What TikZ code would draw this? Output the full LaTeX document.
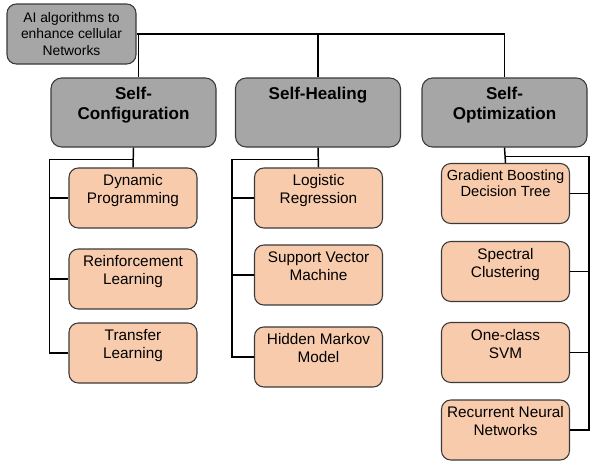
\documentclass[tikz,border=0pt]{standalone}
\usepackage{fontspec}
\setmainfont{Liberation Sans}
\usepackage{tikz}
\usetikzlibrary{positioning}

\definecolor{boxgray}{HTML}{A6A6A6}
\definecolor{leafpeach}{HTML}{F8CBAD}
\definecolor{edgegray}{HTML}{3A3A3A}

\tikzset{
  topbox/.style={draw=edgegray, line width=0.8pt, fill=boxgray, rounded corners=7pt,
    minimum width=96.75pt, minimum height=45pt, align=center,
    font=\fontsize{10.4}{12.4}\selectfont},
  headbox/.style={draw=edgegray, line width=0.8pt, fill=boxgray, rounded corners=8pt,
    minimum width=123.75pt, minimum height=51.75pt},
  leafbox/.style={draw=edgegray, line width=0.8pt, fill=leafpeach, rounded corners=7pt,
    minimum width=96pt, minimum height=45pt},
  headtext/.style={anchor=north, yshift=-7pt, inner sep=0pt, align=center,
    font=\bfseries\fontsize{12.8}{15}\selectfont},
  leaftext/.style={anchor=north, yshift=-5pt, inner sep=0pt, align=center,
    font=\fontsize{11.5}{13.5}\selectfont},
  link/.style={line width=1.1pt}
}

\begin{document}
\begin{tikzpicture}[x=0.75pt, y=-0.75pt]
  \useasboundingbox (0,0) rectangle (592,464);

  \node[topbox] (root) at (71.5, 34) {AI algorithms to\\enhance cellular\\Networks};

  \node[headbox, label={[headtext]north:Self-\\Configuration}] (sc) at (133.5, 112.5) {};
  \node[headbox, label={[headtext]north:Self-Healing}] (sh) at (318, 112.5) {};
  \node[headbox, label={[headtext]north:Self-\\Optimization}] (so) at (504.5, 112.5) {};

  % self-configuration
  \node[leafbox, label={[leaftext]north:Dynamic\\Programming}] (dp) at (133, 198) {};
  \node[leafbox, label={[leaftext]north:Reinforcement\\Learning}] (rl) at (133, 279) {};
  \node[leafbox, label={[leaftext]north:Transfer\\Learning}] (tl) at (133, 353) {};

  % self-healing
  \node[leafbox, label={[leaftext]north:Logistic\\Regression}] (lr) at (318.5, 198) {};
  \node[leafbox, label={[leaftext]north:Support Vector\\Machine}] (svm) at (318.5, 275) {};
  \node[leafbox, label={[leaftext]north:Hidden Markov\\Model}] (hmm) at (318.5, 357) {};

  % self-optimization
  \node[leafbox, label={[leaftext, font=\fontsize{11}{12}\selectfont]north:Gradient Boosting\\Decision Tree}] (gb) at (505.5, 193.5) {};
  \node[leafbox, label={[leaftext]north:Spectral\\Clustering}] (spc) at (505.5, 271.5) {};
  \node[leafbox, label={[leaftext]north:One-class\\SVM}] (ocs) at (505.5, 352.5) {};
  \node[leafbox, label={[leaftext]north:Recurrent Neural\\Networks}] (rn) at (505.5, 430) {};

  \draw[link] (root.east) -- (root.east -| so.north) -- (so.north);
  \draw[link] ([xshift=1.5pt]root.east) -- ([xshift=1.5pt]root.east |- sc.north);
  \draw[link] (sh.north) -- (sh.north |- root.east);

  \draw[link] (sc.south) -- (dp.north);
  \draw[link] (sc.south) ++(0,12) -| ([xshift=-14.25pt]tl.west) -- (tl.west);
  \foreach \n in {dp,rl}
    \draw[link] (\n.west) -- ++(-19,0);

  \draw[link] (sh.south) -- (lr.north);
  \draw[link] (sh.south) ++(0,12) -| ([xshift=-16.5pt]hmm.west) -- (hmm.west);
  \foreach \n in {lr,svm}
    \draw[link] (\n.west) -- ++(-22,0);

  \draw[link] (so.south) -- (gb.north);
  \draw[link] (so.south) ++(0,9) -| ([xshift=14.25pt]rn.east) -- (rn.east);
  \foreach \n in {gb,spc,ocs}
    \draw[link] (\n.east) -- ++(19,0);
\end{tikzpicture}
\end{document}
